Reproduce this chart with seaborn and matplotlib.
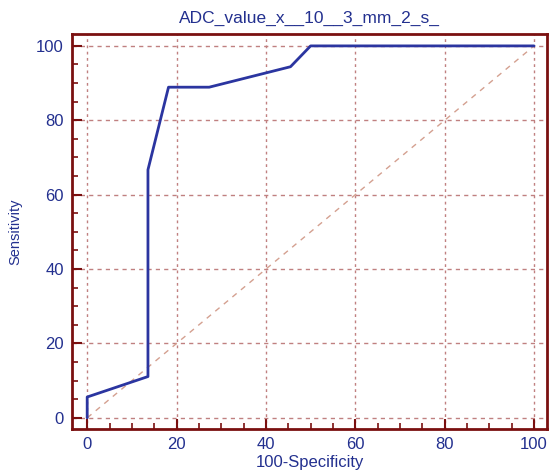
import matplotlib
matplotlib.use("Agg")
import matplotlib.pyplot as plt
import seaborn as sns
import pandas as pd
from matplotlib.ticker import MultipleLocator

fpr = [0, 0, 13.6, 13.6, 18.2, 27.3, 45.5, 50, 100]
tpr = [0, 5.6, 11.1, 66.7, 88.9, 88.9, 94.4, 100, 100]
diag_x = [0, 100]
diag_y = [0, 100]
title = "ADC_value_x__10__3_mm_2_s_"

sns.set_theme(style="white")
plt.rcParams['font.family'] = ['Liberation Sans', 'DejaVu Sans']
plt.rcParams['xtick.direction'] = 'in'
plt.rcParams['ytick.direction'] = 'in'

blue_txt = "#23308f"
frame = "#7a1010"
grid_c = "#c08080"

fig = plt.figure(figsize=(5.5, 4.71), dpi=100)
ax = fig.add_axes([72/550, 42/471, (547-72)/550, (429-34)/471])

df = pd.DataFrame({"fpr": fpr, "tpr": tpr})
ax.plot(diag_x, diag_y, color="#d4a090", lw=1.0, ls=(0, (4, 4)), zorder=2)
sns.lineplot(data=df, x="fpr", y="tpr", ax=ax, color="#2b35a0", lw=2.0,
             sort=False, estimator=None, zorder=3)

ax.set_xlim(-3.4, 102.9)
ax.set_ylim(-3.0, 103.2)
ax.xaxis.set_major_locator(MultipleLocator(20))
ax.yaxis.set_major_locator(MultipleLocator(20))
ax.xaxis.set_minor_locator(MultipleLocator(5))
ax.yaxis.set_minor_locator(MultipleLocator(5))
ax.grid(True, which="major", axis="y", color=grid_c, ls=(0, (3, 3)), lw=1.0)
ax.grid(True, which="major", axis="x", color=grid_c, ls=(0, (2, 2.5)), lw=1.0)
ax.set_axisbelow(True)

for s in ax.spines.values():
    s.set_color(frame)
    s.set_linewidth(2.0)
    s.set_visible(True)

ax.tick_params(which="major", direction="in", length=7, width=1.5, color=frame,
               labelcolor=blue_txt, labelsize=12, bottom=True, left=True, pad=6)
ax.tick_params(which="minor", direction="in", length=4, width=1.2, color=frame,
               bottom=True, left=True)

ax.set_xlabel("100-Specificity", color=blue_txt, fontsize=12, labelpad=2)
ax.set_ylabel("Sensitivity", color=blue_txt, fontsize=10.5, labelpad=10)
ax.set_title(title, color=blue_txt, fontsize=12.5, pad=8)

fig.savefig("out.png", dpi=100)
